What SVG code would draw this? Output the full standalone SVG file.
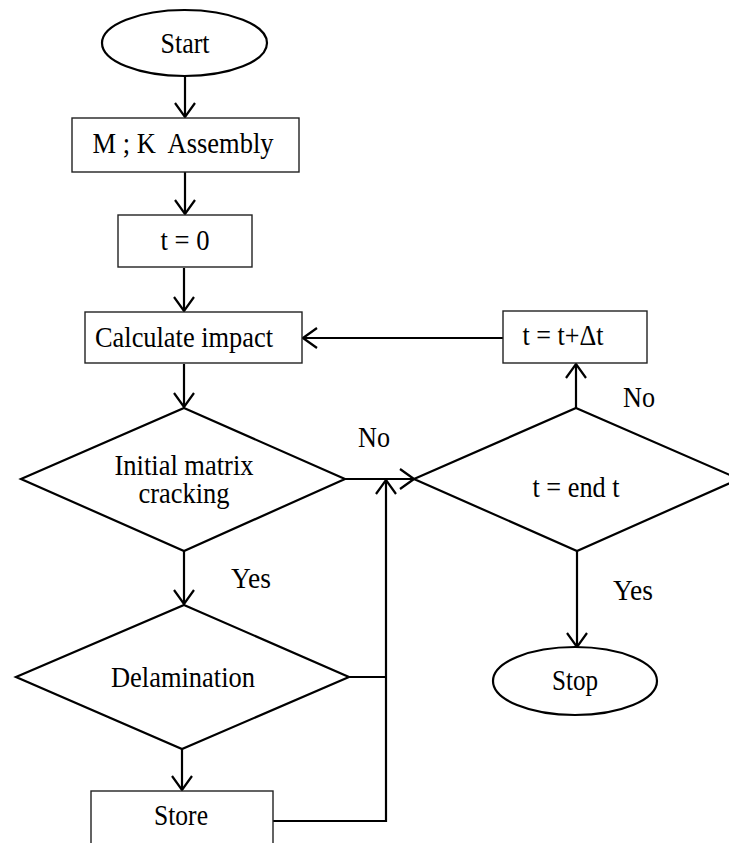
<svg xmlns="http://www.w3.org/2000/svg" width="729" height="843" viewBox="0 0 729 843">
<defs>
<marker id="ah" viewBox="0 0 16 22" refX="15" refY="11" markerWidth="16" markerHeight="22" markerUnits="userSpaceOnUse" orient="auto">
<path d="M1,1 L15,11 L1,21" fill="none" stroke="#000" stroke-width="2.2"/>
</marker>
<style>
.t{font-family:"Liberation Serif","Times New Roman",serif;font-size:29px;fill:#000;text-anchor:middle}
.box{fill:#fff;stroke:#222;stroke-width:1.4}
.sh{fill:#fff;stroke:#000;stroke-width:2.2}
.c{fill:none;stroke:#000;stroke-width:2.2}
.ca{fill:none;stroke:#000;stroke-width:2.2;marker-end:url(#ah)}
</style>
</defs>
<rect width="729" height="843" fill="#fff"/>
<g id="connectors">
<line class="ca" x1="185" y1="77" x2="185" y2="117"/>
<line class="ca" x1="185" y1="172" x2="185" y2="214"/>
<line class="ca" x1="184" y1="268" x2="184" y2="311"/>
<line class="ca" x1="184" y1="364" x2="184" y2="407"/>
<line class="ca" x1="503" y1="338" x2="303" y2="338"/>
<polyline class="ca" points="345,479 414,479"/>
<line class="ca" x1="576" y1="408" x2="576" y2="364"/>
<line class="ca" x1="184" y1="551" x2="184" y2="604"/>
<line class="ca" x1="182" y1="749" x2="182" y2="790"/>
<line class="ca" x1="577" y1="551" x2="577" y2="647"/>
<polyline class="ca" points="273,821 386,821 386,480"/>
<line class="c" x1="349" y1="677" x2="386" y2="677"/>
</g>
<g id="start"><ellipse class="sh" cx="184.5" cy="43" rx="82.5" ry="33"/><text class="t" x="185" y="53" textLength="49" lengthAdjust="spacingAndGlyphs">Start</text></g>
<g id="assembly"><rect class="box" x="72" y="118" width="227" height="54"/><text class="t" x="183" y="153" xml:space="preserve" textLength="181" lengthAdjust="spacingAndGlyphs">M ; K  Assembly</text></g>
<g id="t0"><rect class="box" x="118" y="215" width="134" height="52"/><text class="t" x="185" y="250" textLength="49" lengthAdjust="spacingAndGlyphs">t = 0</text></g>
<g id="impact"><rect class="box" x="85" y="312" width="217" height="51"/><text class="t" x="184" y="347" textLength="178" lengthAdjust="spacingAndGlyphs">Calculate impact</text></g>
<g id="increment"><rect class="box" x="503" y="311" width="144" height="52"/><text class="t" x="563" y="345" textLength="81" lengthAdjust="spacingAndGlyphs">t = t+Δt</text></g>
<g id="cracking"><polygon class="sh" points="184,408 345,479 184,551 21,479"/><text class="t" x="184" y="475" textLength="139" lengthAdjust="spacingAndGlyphs">Initial matrix</text><text class="t" x="184" y="503" textLength="91" lengthAdjust="spacingAndGlyphs">cracking</text></g>
<g id="delamination"><polygon class="sh" points="184,605 349,677 182,749 16,677"/><text class="t" x="183" y="687" textLength="144" lengthAdjust="spacingAndGlyphs">Delamination</text></g>
<g id="store"><rect class="box" x="91" y="791" width="182" height="60"/><text class="t" x="181" y="825" textLength="54" lengthAdjust="spacingAndGlyphs">Store</text></g>
<g id="endt"><polygon class="sh" points="576,408 739,479 577,551 414,479"/><text class="t" x="576" y="497" textLength="87" lengthAdjust="spacingAndGlyphs">t = end t</text></g>
<g id="stop"><ellipse class="sh" cx="575" cy="681" rx="82" ry="34"/><text class="t" x="575" y="690" textLength="46" lengthAdjust="spacingAndGlyphs">Stop</text></g>
<g id="labels">
<text class="t" x="374" y="447" textLength="32" lengthAdjust="spacingAndGlyphs">No</text>
<text class="t" x="639" y="407" textLength="32" lengthAdjust="spacingAndGlyphs">No</text>
<text class="t" x="251" y="588" textLength="40" lengthAdjust="spacingAndGlyphs">Yes</text>
<text class="t" x="633" y="600" textLength="40" lengthAdjust="spacingAndGlyphs">Yes</text>
</g>
</svg>
